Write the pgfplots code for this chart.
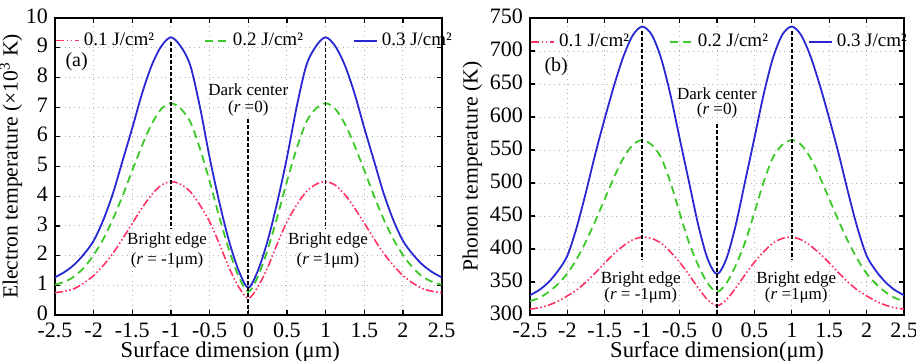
\documentclass[border=0pt]{standalone}
\usepackage{pgfplots}
\pgfplotsset{compat=1.18}
\usepackage{fontspec}
\setmainfont{Liberation Serif}
\definecolor{cred}{RGB}{255,50,100}
\definecolor{cgreen}{RGB}{60,200,40}
\definecolor{cblue}{RGB}{40,40,210}
\tikzset{ann/.style={font=\fontsize{8.5}{9.5}\selectfont, align=center, inner sep=0pt}}
\pgfplotsset{
  myaxis/.style={
    scale only axis,
    height=148.5pt,
    xmin=-2.5, xmax=2.5,
    xtick={-2.5,-2,...,2.5},
    /pgf/number format/assume math mode=true,
    tick label style={font=\fontsize{11}{12}\selectfont},
    label style={font=\fontsize{11.3}{12}\selectfont},
    axis line style={line width=1pt},
    major tick length=2.5pt,
    tick style={black, line width=0.6pt},
    grid=major,
    major grid style={dotted, gray!60, line width=0.5pt},
    xticklabel style={yshift=-0.5pt},
    yticklabel style={yshift=1pt},
    xlabel style={yshift=5pt},
    legend columns=3,
    legend style={draw=none, fill=none, font=\fontsize{9.5}{10}\selectfont, inner sep=0pt},
    legend cell align=left,
    legend image code/.code={\draw[#1] (0pt,0pt) -- (11.5pt,0pt);},
  },
  redl/.style={cred, line width=0.8pt, dash pattern=on 4pt off 1.2pt on 0.8pt off 1.2pt on 0.8pt off 1.2pt},
  greenl/.style={cgreen, line width=0.9pt, dash pattern=on 4pt off 2.5pt},
  bluel/.style={cblue, line width=0.9pt},
  vline/.style={black, line width=0.8pt, dash pattern=on 2pt off 1pt, forget plot},
}
\begin{document}
\begin{tikzpicture}
\path[use as bounding box] (-27.5pt,-22.5pt) rectangle (430.5pt,157.5pt);
% ---------- (a)
\begin{axis}[myaxis, at={(0pt,0pt)}, anchor=south west, width=193.3pt,
  ymin=0, ymax=10, ytick={0,1,...,10},
  xlabel={Surface dimension (μm)},
  xlabel style={xshift=-9pt},
  ylabel={Electron temperature (×10\textsuperscript{3} K)},
  ylabel style={yshift=-5pt, font=\fontsize{10.8}{12}\selectfont},
  legend style={at={(0.0,0.965)}, anchor=north west,
      /tikz/every even column/.append style={column sep=23pt}},
]
\addplot[redl, smooth] coordinates {
(-2.5,0.75) (-2.375,0.80) (-2.25,0.89) (-2.125,1.08) (-2,1.33) (-1.875,1.67) (-1.75,2.08) (-1.625,2.57) (-1.5,3.09) (-1.375,3.60) (-1.25,4.05) (-1.125,4.37) (-1,4.49) (-0.875,4.40) (-0.75,4.15) (-0.625,3.70) (-0.5,3.14) (-0.375,2.40) (-0.25,1.60) (-0.125,0.95) (0,0.56)
(0.125,0.95) (0.25,1.60) (0.375,2.40) (0.5,3.14) (0.625,3.70) (0.75,4.15) (0.875,4.40) (1,4.49) (1.125,4.37) (1.25,4.05) (1.375,3.60) (1.5,3.09) (1.625,2.57) (1.75,2.08) (1.875,1.67) (2,1.33) (2.125,1.08) (2.25,0.89) (2.375,0.80) (2.5,0.75)};
\addlegendentry{0.1 J/cm²}
\addplot[greenl, smooth] coordinates {
(-2.5,1.02) (-2.375,1.12) (-2.25,1.30) (-2.125,1.60) (-2,2.02) (-1.875,2.56) (-1.75,3.23) (-1.625,4.02) (-1.5,4.87) (-1.375,5.70) (-1.25,6.43) (-1.125,6.94) (-1,7.13) (-0.875,6.95) (-0.75,6.50) (-0.625,5.60) (-0.5,4.50) (-0.375,3.30) (-0.25,2.20) (-0.125,1.30) (0,0.78)
(0.125,1.30) (0.25,2.20) (0.375,3.30) (0.5,4.50) (0.625,5.60) (0.75,6.50) (0.875,6.95) (1,7.13) (1.125,6.94) (1.25,6.43) (1.375,5.70) (1.5,4.87) (1.625,4.02) (1.75,3.23) (1.875,2.56) (2,2.02) (2.125,1.60) (2.25,1.30) (2.375,1.12) (2.5,1.02)};
\addlegendentry{0.2 J/cm²}
\addplot[bluel, smooth] coordinates {
(-2.5,1.27) (-2.375,1.45) (-2.25,1.70) (-2.125,2.05) (-2,2.50) (-1.875,3.20) (-1.75,4.10) (-1.625,5.20) (-1.5,6.30) (-1.375,7.45) (-1.25,8.40) (-1.125,9.05) (-1,9.35) (-0.875,9.05) (-0.75,8.40) (-0.625,7.00) (-0.5,5.30) (-0.375,3.80) (-0.25,2.50) (-0.125,1.50) (0,0.92)
(0.125,1.50) (0.25,2.50) (0.375,3.80) (0.5,5.30) (0.625,7.00) (0.75,8.40) (0.875,9.05) (1,9.35) (1.125,9.05) (1.25,8.40) (1.375,7.45) (1.5,6.30) (1.625,5.20) (1.75,4.10) (1.875,3.20) (2,2.50) (2.125,2.05) (2.25,1.70) (2.375,1.45) (2.5,1.27)};
\addlegendentry{0.3 J/cm²}
\addplot[vline] coordinates {(-1,9.2) (-1,2.9)};
\addplot[vline] coordinates {(1,9.2) (1,2.9)};
\addplot[vline] coordinates {(0,6.6) (0,0)};
\node[ann] at (axis cs:0,7.57) {Dark center};
\node[ann] at (axis cs:0,6.97) {(\textit{r} =0)};
\node[ann] at (axis cs:-1.05,2.52) {Bright edge};
\node[ann] at (axis cs:-1.05,1.85) {(\textit{r} = -1μm)};
\node[ann] at (axis cs:1.03,2.52) {Bright edge};
\node[ann] at (axis cs:1.03,1.85) {(\textit{r} =1μm)};
\node[font=\fontsize{10}{11}\selectfont, inner sep=0pt] at (axis cs:-2.22,8.53) {(a)};
\end{axis}
% ---------- (b)
\begin{axis}[myaxis, at={(237.5pt,0pt)}, anchor=south west, width=187pt,
  ymin=300, ymax=750, ytick={300,350,...,750},
  xlabel={Surface dimension(μm)},
  ylabel={Phonon temperature (K)},
  ylabel style={yshift=-3pt, font=\fontsize{10.8}{12}\selectfont},
  legend style={at={(0.0,0.96)}, anchor=north west,
      /tikz/every even column/.append style={column sep=18pt}},
]
\addplot[redl, smooth] coordinates {
(-2.5,309) (-2.375,311) (-2.25,315) (-2.125,321) (-2,329) (-1.875,338) (-1.75,350) (-1.625,364) (-1.5,379) (-1.375,393) (-1.25,405) (-1.125,414) (-1,418) (-0.875,416) (-0.75,409) (-0.625,396) (-0.5,380) (-0.375,361) (-0.25,341) (-0.125,323) (0,314)
(0.125,323) (0.25,341) (0.375,361) (0.5,380) (0.625,396) (0.75,409) (0.875,416) (1,418) (1.125,414) (1.25,405) (1.375,393) (1.5,379) (1.625,364) (1.75,350) (1.875,338) (2,329) (2.125,321) (2.25,315) (2.375,311) (2.5,309)};
\addlegendentry{0.1 J/cm²}
\addplot[greenl, smooth] coordinates {
(-2.5,321) (-2.375,326) (-2.25,335) (-2.125,347) (-2,363) (-1.875,385) (-1.75,412) (-1.625,443) (-1.5,476) (-1.375,509) (-1.25,538) (-1.125,558) (-1,565) (-0.875,558) (-0.75,539) (-0.625,502) (-0.5,455) (-0.375,410) (-0.25,375) (-0.125,348) (0,335)
(0.125,348) (0.25,375) (0.375,410) (0.5,455) (0.625,502) (0.75,539) (0.875,558) (1,565) (1.125,558) (1.25,538) (1.375,509) (1.5,476) (1.625,443) (1.75,412) (1.875,385) (2,363) (2.125,347) (2.25,335) (2.375,326) (2.5,321)};
\addlegendentry{0.2 J/cm²}
\addplot[bluel, smooth] coordinates {
(-2.5,330) (-2.375,338) (-2.25,350) (-2.125,367) (-2,390) (-1.875,433) (-1.75,487) (-1.625,545) (-1.5,598) (-1.375,648) (-1.25,692) (-1.125,724) (-1,737) (-0.875,725) (-0.75,690) (-0.625,635) (-0.5,568) (-0.375,502) (-0.25,436) (-0.125,385) (0,362)
(0.125,385) (0.25,436) (0.375,502) (0.5,568) (0.625,635) (0.75,690) (0.875,725) (1,737) (1.125,724) (1.25,692) (1.375,648) (1.5,598) (1.625,545) (1.75,487) (1.875,433) (2,390) (2.125,367) (2.25,350) (2.375,338) (2.5,330)};
\addlegendentry{0.3 J/cm²}
\addplot[vline] coordinates {(-1,730) (-1,383)};
\addplot[vline] coordinates {(1,730) (1,383)};
\addplot[vline] coordinates {(0,590) (0,300)};
\node[ann] at (axis cs:0,636) {Dark center};
\node[ann] at (axis cs:0,610) {(\textit{r} =0)};
\node[ann] at (axis cs:-1.02,354) {Bright edge};
\node[ann] at (axis cs:-1.02,330) {(\textit{r} = -1μm)};
\node[ann] at (axis cs:1.06,354) {Bright edge};
\node[ann] at (axis cs:1.06,330) {(\textit{r} =1μm)};
\node[font=\fontsize{10}{11}\selectfont, inner sep=0pt] at (axis cs:-2.15,676) {(b)};
\end{axis}
\end{tikzpicture}
\end{document}
